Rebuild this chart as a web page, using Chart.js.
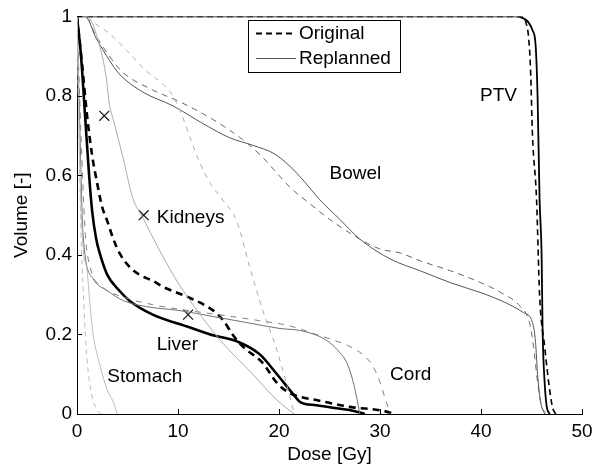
<!DOCTYPE html>
<html lang="en">
<head>
    <meta charset="UTF-8">
    <title>DVH Original vs Replanned</title>
    <script src="https://cdn.jsdelivr.net/npm/chart.js"></script>
    <style>
        html, body { margin: 0; padding: 0; background: #fff; }
        #wrap { width: 600px; height: 476px; }
    </style>
</head>
<body>
    <div id="wrap"><canvas id="dvh" width="600" height="476"></canvas></div>
    <script>
        // Dose [Gy] / Volume [-]
        const ptvOrigDose = [0, 44, 44.5, 44.7, 44.9, 45.1, 45.5, 45.8, 46.3, 46.8, 47.1, 47.4];
        const ptvOrigVol  = [1, 1, 0.98, 0.95, 0.87, 0.70, 0.54, 0.30, 0.17, 0.06, 0.015, 0];
        const ptvReplDose = [0, 43.5, 44.2, 44.7, 45.1, 45.4, 45.6, 45.8, 46.0, 46.1, 46.3, 46.5, 46.8];
        const ptvReplVol  = [1, 1, 0.995, 0.985, 0.965, 0.93, 0.8, 0.54, 0.40, 0.21, 0.08, 0.02, 0];

        const bowelOrigDose = [0, 0.8, 1.9, 3.2, 4.5, 7.5, 10.2, 13.5, 16.4, 18.4, 20, 21.1, 23, 25, 28, 30, 32, 34, 37, 40, 42, 43.9, 44.8, 45.2, 45.6, 46, 46.6];
        const bowelOrigVol  = [1, 1, 0.95, 0.9, 0.86, 0.815, 0.785, 0.74, 0.69, 0.645, 0.6, 0.57, 0.53, 0.49, 0.44, 0.415, 0.405, 0.385, 0.36, 0.33, 0.305, 0.27, 0.23, 0.17, 0.08, 0.02, 0];
        const bowelReplDose = [0, 0.8, 1.9, 3.2, 4.2, 6.5, 9.5, 12.5, 15.1, 17.5, 19.5, 21, 22.5, 24, 26, 28, 31, 34, 37, 40, 42, 44.2, 45.1, 45.4, 45.6, 45.9, 46.3];
        const bowelReplVol  = [1, 1, 0.945, 0.89, 0.855, 0.81, 0.775, 0.73, 0.695, 0.675, 0.655, 0.625, 0.585, 0.54, 0.49, 0.44, 0.39, 0.36, 0.33, 0.305, 0.285, 0.255, 0.23, 0.18, 0.1, 0.03, 0];

        const kidneyOrigDose = [0, 1.3, 2.2, 3.3, 5, 6.9, 8.5, 9.5, 10.4, 11.2, 12.2, 13.2, 14.5, 15.8, 17.1, 18.4, 19.8, 20.8, 21.5];
        const kidneyOrigVol  = [1, 0.99, 0.975, 0.955, 0.912, 0.862, 0.83, 0.8, 0.75, 0.695, 0.63, 0.58, 0.536, 0.486, 0.37, 0.26, 0.16, 0.07, 0];
        const kidneyReplDose = [0, 1, 2.2, 2.9, 3.2, 3.6, 4.6, 5.5, 6.6, 8, 10, 12.2, 14.2, 17.4, 19.8, 21.5];
        const kidneyReplVol  = [1, 1, 0.93, 0.845, 0.78, 0.74, 0.64, 0.545, 0.49, 0.42, 0.33, 0.25, 0.185, 0.10, 0.035, 0];

        const liverOrigDose = [0, 0.5, 1, 1.5, 2, 2.5, 3, 3.6, 4.2, 5.2, 6.2, 7.5, 8.5, 10.9, 13.5, 14.5, 15.4, 16.4, 18.4, 19.8, 21.1, 22.1, 23.7, 27, 30.3, 31.5];
        const liverOrigVol  = [1, 0.88, 0.75, 0.65, 0.58, 0.52, 0.485, 0.44, 0.405, 0.37, 0.35, 0.335, 0.32, 0.295, 0.26, 0.235, 0.2, 0.17, 0.128, 0.078, 0.052, 0.043, 0.035, 0.018, 0.008, 0];
        const liverReplDose = [0, 0.4, 0.8, 1.2, 1.5, 1.9, 2.3, 3, 4.2, 5.2, 7.5, 10.9, 13.2, 16.1, 18.1, 19.8, 21.4, 22.1, 23.7, 25.5, 27, 28.5];
        const liverReplVol  = [1, 0.9, 0.75, 0.6, 0.51, 0.44, 0.40, 0.35, 0.31, 0.285, 0.25, 0.22, 0.2, 0.18, 0.15, 0.10, 0.05, 0.03, 0.022, 0.015, 0.01, 0];

        const stomachOrigDose = [0, 0.2, 0.4, 0.6, 0.9, 1.3, 2, 2.5];
        const stomachOrigVol  = [1, 0.7, 0.45, 0.32, 0.17, 0.07, 0.01, 0];
        const stomachReplDose = [0, 0.3, 0.6, 1, 1.3, 1.6, 2.3, 3, 3.6, 4];
        const stomachReplVol  = [1, 0.6, 0.42, 0.36, 0.27, 0.2, 0.12, 0.06, 0.03, 0];

        const cordOrigDose = [0, 0.4, 0.8, 1.3, 2.5, 4.5, 7.5, 10.5, 14, 18, 21, 23.7, 25.5, 27, 28.5, 29.3, 30, 30.5, 31];
        const cordOrigVol  = [1, 0.7, 0.46, 0.37, 0.32, 0.295, 0.275, 0.262, 0.25, 0.235, 0.222, 0.2, 0.185, 0.17, 0.145, 0.12, 0.08, 0.04, 0];
        const cordReplDose = [0, 0.3, 0.6, 1.6, 3, 4.6, 6.9, 10.2, 13.5, 16.8, 20.1, 22.1, 24, 25, 26, 26.7, 27.3, 27.7, 28];
        const cordReplVol  = [1, 0.7, 0.45, 0.34, 0.31, 0.285, 0.27, 0.26, 0.245, 0.23, 0.215, 0.21, 0.195, 0.18, 0.155, 0.13, 0.085, 0.04, 0];

        // constraint markers
        const markDose = [2.7, 6.6, 11];
        const markVol  = [0.75, 0.5, 0.25];

        // structure labels
        const labelText = ['PTV', 'Bowel', 'Kidneys', 'Liver', 'Stomach', 'Cord'];
        const labelDose = [39.9, 25.0, 7.9, 7.9, 3.0, 31.0];
        const labelVol  = [0.80, 0.604, 0.494, 0.173, 0.093, 0.098];

        const xTicks = [0, 10, 20, 30, 40, 50];
        const yTicks = [0, 0.2, 0.4, 0.6, 0.8, 1];

        const FONT = '"Liberation Sans", Arial, sans-serif';

        function pts(xs, ys) {
            return xs.map((x, i) => ({ x: x, y: ys[i] }));
        }

        function curve(xs, ys, color, width, dash) {
            return {
                data: pts(xs, ys),
                borderColor: color,
                borderWidth: width,
                borderDash: dash || [],
                pointRadius: 0,
                showLine: true,
                fill: false,
                cubicInterpolationMode: 'monotone'
            };
        }

        const datasets = [
            curve(stomachOrigDose, stomachOrigVol, '#bdbdbd', 1, [5, 4]),
            curve(stomachReplDose, stomachReplVol, '#bdbdbd', 1),
            curve(kidneyOrigDose, kidneyOrigVol, '#ababab', 1, [5, 5]),
            curve(kidneyReplDose, kidneyReplVol, '#ababab', 1),
            curve(cordOrigDose, cordOrigVol, '#808080', 1, [6, 6]),
            curve(cordReplDose, cordReplVol, '#707070', 1),
            curve(bowelOrigDose, bowelOrigVol, '#666', 1, [6, 5]),
            curve(bowelReplDose, bowelReplVol, '#555', 1),
            curve(liverOrigDose, liverOrigVol, '#000', 2.6, [7, 5]),
            curve(liverReplDose, liverReplVol, '#000', 2.6),
            curve(ptvOrigDose, ptvOrigVol, '#000', 1.6, [6, 4]),
            curve(ptvReplDose, ptvReplVol, '#000', 1.8),
            {
                data: pts(markDose, markVol),
                showLine: false,
                pointStyle: 'crossRot',
                pointRadius: 7,
                pointBorderWidth: 1.2,
                borderColor: '#111',
                backgroundColor: '#111'
            }
        ];

        // inward tick marks (MATLAB style)
        const innerTicks = {
            id: 'innerTicks',
            afterDraw(chart) {
                const { ctx, chartArea, scales } = chart;
                ctx.save();
                ctx.strokeStyle = '#000';
                ctx.lineWidth = 1;
                ctx.beginPath();
                xTicks.forEach(v => {
                    const px = Math.round(scales.x.getPixelForValue(v)) + 0.5;
                    ctx.moveTo(px, chartArea.bottom);
                    ctx.lineTo(px, chartArea.bottom - 5);
                });
                yTicks.forEach(v => {
                    const py = Math.round(scales.y.getPixelForValue(v)) + 0.5;
                    ctx.moveTo(chartArea.left, py);
                    ctx.lineTo(chartArea.left + 5, py);
                });
                ctx.stroke();
                ctx.restore();
            }
        };

        const structLabels = {
            id: 'structLabels',
            afterDatasetsDraw(chart) {
                const { ctx, scales } = chart;
                ctx.save();
                ctx.fillStyle = '#000';
                ctx.font = '19px ' + FONT;
                ctx.textAlign = 'left';
                ctx.textBaseline = 'middle';
                labelText.forEach((t, i) => {
                    ctx.fillText(t, scales.x.getPixelForValue(labelDose[i]), scales.y.getPixelForValue(labelVol[i]));
                });
                ctx.restore();
            }
        };

        const boxLegend = {
            id: 'boxLegend',
            afterDraw(chart) {
                const ctx = chart.ctx;
                ctx.save();
                ctx.fillStyle = '#fff';
                ctx.fillRect(248, 20, 152, 52);
                ctx.strokeStyle = '#000';
                ctx.lineWidth = 1;
                ctx.strokeRect(248.5, 20.5, 152, 52);

                ctx.beginPath();
                ctx.setLineDash([6, 4]);
                ctx.lineWidth = 1.8;
                ctx.moveTo(256, 33.5);
                ctx.lineTo(296, 33.5);
                ctx.stroke();

                ctx.beginPath();
                ctx.setLineDash([]);
                ctx.lineWidth = 1;
                ctx.strokeStyle = '#555';
                ctx.moveTo(256, 58.5);
                ctx.lineTo(296, 58.5);
                ctx.stroke();

                ctx.fillStyle = '#000';
                ctx.font = '19px ' + FONT;
                ctx.textBaseline = 'middle';
                ctx.fillText('Original', 299, 34);
                ctx.fillText('Replanned', 299, 59);
                ctx.restore();
            }
        };

        new Chart(document.getElementById('dvh'), {
            type: 'scatter',
            data: { datasets: datasets },
            options: {
                responsive: false,
                animation: false,
                devicePixelRatio: 1,
                layout: { padding: { top: 15, right: 18, left: 0, bottom: 0 } },
                plugins: {
                    legend: { display: false },
                    tooltip: { enabled: false }
                },
                scales: {
                    x: {
                        type: 'linear',
                        min: 0,
                        max: 50,
                        afterFit(scale) { scale.height = 62; },
                        afterBuildTicks(scale) { scale.ticks = xTicks.map(v => ({ value: v })); },
                        grid: { display: false, drawTicks: false },
                        border: { display: true, color: '#000', width: 1 },
                        ticks: { color: '#000', font: { size: 19, family: FONT }, padding: 6, maxRotation: 0 },
                        title: {
                            display: true,
                            text: 'Dose [Gy]',
                            color: '#000',
                            font: { size: 19, family: FONT },
                            padding: { top: 0, bottom: 10 }
                        }
                    },
                    y: {
                        type: 'linear',
                        min: 0,
                        max: 1,
                        afterFit(scale) { scale.width = 77; },
                        afterBuildTicks(scale) { scale.ticks = yTicks.map(v => ({ value: v })); },
                        grid: { display: false, drawTicks: false },
                        border: { display: true, color: '#000', width: 1 },
                        ticks: {
                            color: '#000',
                            font: { size: 19, family: FONT },
                            padding: 5,
                            callback: v => String(Number(v.toFixed(1)))
                        },
                        title: {
                            display: true,
                            text: 'Volume [-]',
                            color: '#000',
                            font: { size: 19, family: FONT },
                            padding: { top: 10, bottom: 0 }
                        }
                    }
                }
            },
            plugins: [innerTicks, structLabels, boxLegend]
        });
    </script>
</body>
</html>
